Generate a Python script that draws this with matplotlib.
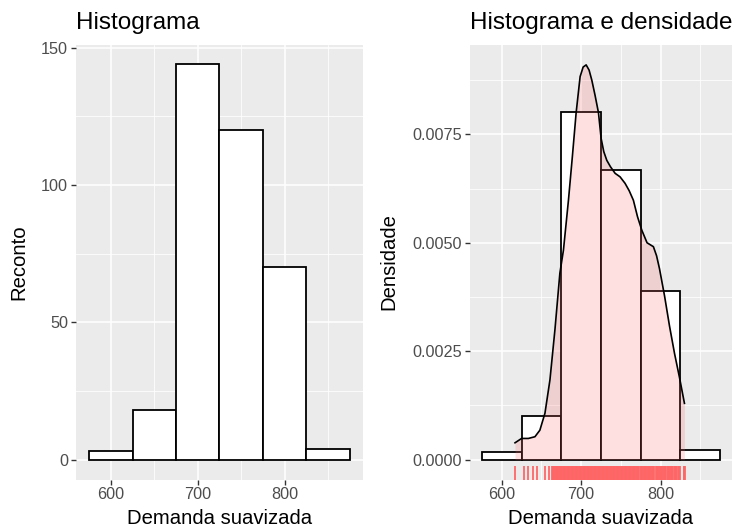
import numpy as np
import matplotlib
matplotlib.use("Agg")
import matplotlib.pyplot as plt
from matplotlib.ticker import FixedLocator, FuncFormatter

plt.rcParams['font.family'] = ['Liberation Sans', 'DejaVu Sans']

# ---------------- data ----------------
bin_centers = [600, 650, 700, 750, 800, 850]
bin_width = 50
counts = [3, 18, 144, 120, 70, 4]

dens_x = [616.7, 625.0, 633.5, 641.8, 648.0, 654.4, 660.7, 667.0, 673.2, 677.7,
          684.0, 689.0, 693.7, 698.7, 702.5, 706.3, 710.0, 713.4, 717.5, 721.8,
          725.2, 728.5, 732.3, 737.0, 742.8, 749.0, 755.3, 760.5, 765.8, 771.0,
          776.4, 783.0, 791.0, 795.0, 798.7, 805.0, 811.3, 817.6, 823.8, 830.1]
dens_y = [0.00039, 0.00049, 0.00049, 0.00053, 0.00068, 0.00107, 0.00184, 0.0030, 0.0043, 0.00483,
          0.00598, 0.0070, 0.0080, 0.00883, 0.00905, 0.0091, 0.00898, 0.00875, 0.0084, 0.0080,
          0.0074, 0.0071, 0.0069, 0.00675, 0.0066, 0.00652, 0.00637, 0.0062, 0.00598, 0.0056,
          0.00529, 0.0050, 0.00491, 0.0047, 0.0044, 0.00378, 0.00308, 0.00245, 0.0019, 0.0013]

rug_sparse = [617, 627.5, 633, 639.5, 645, 655, 659.5]
rug_dense = [663, 664, 665, 666, 667, 668, 669, 670, 671, 672,
             673, 674, 675, 676, 677, 678, 679, 680, 681, 682,
             683, 684, 685, 686, 687, 688, 689, 690, 691, 692,
             693, 694, 695, 696, 697, 698, 699, 700, 701, 702,
             703, 704, 705, 706, 707, 708, 709, 710, 711, 712,
             713, 714, 715, 716, 717, 718, 719, 720, 721, 722,
             723, 724, 725, 726, 727, 728, 729, 730, 731, 732,
             733, 734, 735, 736, 737, 738, 739, 740, 741, 742,
             743, 744, 745, 746, 747, 748, 749, 750, 751, 752,
             753, 754, 755, 756, 757, 758, 759, 760, 761, 762,
             763, 764, 765, 766, 767, 768, 769, 770, 771, 772,
             773, 775, 776, 777, 778, 779, 780, 781, 782,
             783, 784, 785, 786, 787, 788, 789, 790, 791, 792,
             794, 795, 796, 797, 798, 799, 800, 801, 802,
             803, 804, 805, 806, 807, 809, 810, 811, 812,
             813, 814, 815, 817, 818, 819, 820, 822,
             823, 824, 829, 830, 831]
rug_values = rug_sparse + rug_dense

x_ticks = [600, 700, 800]
x_minor = [650, 750, 850]
left_yticks = [0, 50, 100, 150]
left_yminor = [25, 75, 125]
right_yticks = [0.0, 0.0025, 0.0050, 0.0075]
right_yminor = [0.00125, 0.00375, 0.00625, 0.00875]

# ---------------- figure ----------------
W, H = 733, 527
fig = plt.figure(figsize=(W / 100, H / 100), dpi=100)
fig.patch.set_facecolor('white')

top_px, bot_px = 44.5, 479.5
axL = fig.add_axes([76.3 / W, 1 - bot_px / H, (362.6 - 76.3) / W, (bot_px - top_px) / H])
axR = fig.add_axes([470.0 / W, 1 - bot_px / H, (732.0 - 470.0) / W, (bot_px - top_px) / H])

TICK_FS = 11.7
AX_FS = 14.6
TITLE_FS = 17.5


def style(ax, yticks, yminor, fmt):
    ax.set_facecolor('#EBEBEB')
    for s in ax.spines.values():
        s.set_visible(False)
    ax.xaxis.set_major_locator(FixedLocator(x_ticks))
    ax.xaxis.set_minor_locator(FixedLocator(x_minor))
    ax.yaxis.set_major_locator(FixedLocator(yticks))
    ax.yaxis.set_minor_locator(FixedLocator(yminor))
    ax.yaxis.set_major_formatter(FuncFormatter(fmt))
    ax.grid(which='major', color='white', linewidth=1.1)
    ax.grid(which='minor', color='white', linewidth=0.55)
    ax.set_axisbelow(True)
    ax.tick_params(which='major', length=3.65, width=1.0, color='#333333',
                   labelsize=TICK_FS, labelcolor='#4D4D4D')
    ax.tick_params(axis='x', which='major', pad=1.5)
    ax.tick_params(axis='y', which='major', pad=2.4)
    ax.tick_params(which='minor', length=0)


# Left: histogram (counts)
axL.bar(bin_centers, counts, width=bin_width, color='white', edgecolor='black',
        linewidth=1.3, zorder=2)
axL.set_xlim(560, 890)
axL.set_ylim(-7.2, 151.2)
style(axL, left_yticks, left_yminor, lambda v, p: f"{v:.0f}")

# Right: histogram (density) + density curve + rug
counts_arr = np.array(counts, dtype=float)
density = counts_arr / (counts_arr.sum() * bin_width)
axR.bar(bin_centers, density, width=bin_width, color='white', edgecolor='black',
        linewidth=1.3, zorder=2)
axR.fill_between(dens_x, 0, dens_y, color='#FF6666', alpha=0.2, linewidth=0, zorder=3)
axR.plot(dens_x, dens_y, color='black', linewidth=1.2, zorder=4,
         solid_joinstyle='round')
axR.vlines(rug_values, 0, 0.031, transform=axR.get_xaxis_transform(),
           color='#FF6666', linewidth=1.3, zorder=3)
axR.set_xlim(560, 890)
axR.set_ylim(-0.000456, 0.00957)
style(axR, right_yticks, right_yminor, lambda v, p: f"{v:.4f}")

# Titles
fig.text(76.3 / W, 1 - 29.5 / H, "Histograma", fontsize=TITLE_FS, ha='left', va='baseline')
fig.text(470.0 / W, 1 - 29.5 / H, "Histograma e densidade", fontsize=TITLE_FS,
         ha='left', va='baseline')

# Axis titles
fig.text((76.3 + 362.6) / 2 / W, 1 - 523.5 / H, "Demanda suavizada", fontsize=AX_FS,
         ha='center', va='baseline')
fig.text((470.0 + 732.0) / 2 / W, 1 - 523.5 / H, "Demanda suavizada", fontsize=AX_FS,
         ha='center', va='baseline')
mid_y = 1 - (top_px + bot_px) / 2 / H
fig.text(9.5 / W, mid_y, "Reconto", fontsize=AX_FS, rotation=90, ha='left', va='center')
fig.text(379.6 / W, mid_y, "Densidade", fontsize=AX_FS, rotation=90, ha='left', va='center')

fig.savefig("out.png", dpi=100, facecolor='white')
